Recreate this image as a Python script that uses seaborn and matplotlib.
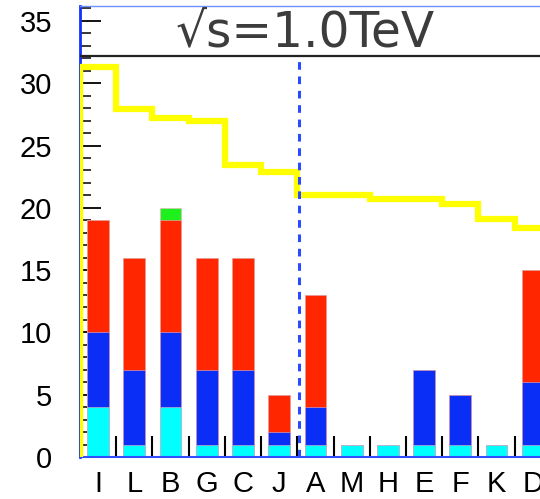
#!/usr/bin/env python3
"""Stacked event counts per channel with a yellow step reference line."""

import matplotlib
matplotlib.use("Agg")
import matplotlib.pyplot as plt
import numpy as np
import pandas as pd
import seaborn as sns

# categories along x
channels = ["I", "L", "B", "G", "C", "J", "A", "M", "H", "E", "F", "K", "D"]

# stacked components (bottom to top)
cyan_part = [4, 1, 4, 1, 1, 1, 1, 1, 1, 1, 1, 1, 1]
blue_part = [6, 6, 6, 6, 6, 1, 3, 0, 0, 6, 4, 0, 5]
red_part = [9, 9, 9, 9, 9, 3, 9, 0, 0, 0, 0, 0, 9]
green_part = [0, 0, 1, 0, 0, 0, 0, 0, 0, 0, 0, 0, 0]

# yellow step line
step_values = [31.3, 27.9, 27.2, 27.0, 23.4, 22.9, 21.0, 21.0, 20.7, 20.7, 20.3, 19.1, 18.4]

title_text = "\u221as=1.0TeV"

df = pd.DataFrame({
    "channel": channels,
    "cyan": cyan_part,
    "blue": blue_part,
    "red": red_part,
    "green": green_part,
})
df["c1"] = df["cyan"]
df["c2"] = df["c1"] + df["blue"]
df["c3"] = df["c2"] + df["red"]
df["c4"] = df["c3"] + df["green"]

sns.set_theme(style="white")

fig = plt.figure(figsize=(5.4, 4.99), dpi=100)
ax = fig.add_axes([80 / 540, 1 - 457 / 499, 1 - 80 / 540, 451 / 499])

# draw cumulative totals from the top layer down so each overlays the previous
layers = [("c4", "#1ef01e"), ("c3", "#ff2600"), ("c2", "#0a2ef5"), ("c1", "#00ffff")]
for col, color in layers:
    sns.barplot(data=df, x="channel", y=col, order=channels, color=color,
                width=0.6, saturation=1, ax=ax, edgecolor="#f0b0c0", linewidth=0.4)

edges = np.arange(len(channels) + 1) - 0.5
ax.stairs(step_values, edges, baseline=0, color="#ffff00", linewidth=4.5, zorder=5)

ax.plot([5.55, 5.55], [0, 32.2], color="#2a4bff", linewidth=2.2,
        linestyle=(0, (2.5, 2.2)), zorder=6)
ax.axhline(32.2, color="#222222", linewidth=1.6, zorder=6)

ax.text(5.72, 34.1, title_text, ha="center", va="center", fontsize=35,
        color="#3c3c3c", family=["DejaVu Sans"])

ax.set_xlim(-0.5, 12.2)
ax.set_ylim(0, 36.2)
ax.set_xlabel("")
ax.set_ylabel("")

ax.set_yticks(np.arange(0, 36, 5))
ax.set_yticks(np.arange(0, 37, 1), minor=True)
ax.set_xticks(np.arange(len(channels) - 1) + 0.5, minor=True)
ax.tick_params(axis="y", which="major", direction="in", length=15, width=1.3,
               color="black", labelsize=21, pad=20, left=True)
ax.tick_params(axis="y", which="minor", direction="in", length=8, width=1.1,
               color="black", left=True)
ax.tick_params(axis="x", which="major", length=0, labelsize=21, pad=9)
ax.tick_params(axis="x", which="minor", direction="in", length=15, width=1.5,
               color="black", bottom=True)
for lab in ax.get_xticklabels() + ax.get_yticklabels():
    lab.set_family("Liberation Sans")
    lab.set_color("black")

ax.spines["left"].set_color("#1030ff")
ax.spines["left"].set_linewidth(2)
ax.spines["bottom"].set_color("#3050ff")
ax.spines["bottom"].set_linewidth(1.5)
ax.spines["top"].set_color("#7090ff")
ax.spines["top"].set_linewidth(1)
ax.spines["right"].set_visible(False)

fig.savefig("out.png", dpi=100)
plt.close(fig)
